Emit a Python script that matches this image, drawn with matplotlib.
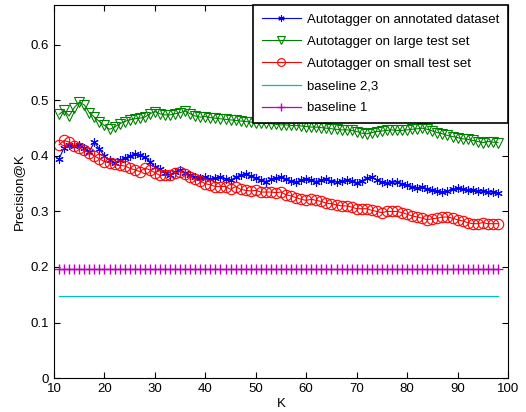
import numpy as np
import matplotlib
matplotlib.use("Agg")
import matplotlib.pyplot as plt

# valores de K
k_values = list(range(11, 99))

# Autotagger on annotated dataset
annotated = [0.395, 0.415, 0.420, 0.418, 0.420, 0.415, 0.408, 0.425, 0.412, 0.400,
             0.392, 0.388, 0.392, 0.396, 0.400, 0.403, 0.401, 0.398, 0.390, 0.380,
             0.376, 0.370, 0.366, 0.372, 0.375, 0.370, 0.366, 0.362, 0.360, 0.362,
             0.358, 0.360, 0.362, 0.358, 0.356, 0.362, 0.365, 0.367, 0.364, 0.360,
             0.356, 0.354, 0.358, 0.360, 0.362, 0.358, 0.355, 0.353, 0.356, 0.358,
             0.356, 0.354, 0.357, 0.358, 0.355, 0.353, 0.355, 0.357, 0.355, 0.352,
             0.355, 0.360, 0.362, 0.357, 0.353, 0.352, 0.354, 0.353, 0.350, 0.347,
             0.345, 0.343, 0.344, 0.341, 0.338, 0.336, 0.335, 0.337, 0.340, 0.342,
             0.340, 0.338, 0.338, 0.336, 0.337, 0.335, 0.335, 0.334]

# Autotagger on large test set
large = [0.475, 0.482, 0.472, 0.487, 0.497, 0.492, 0.478, 0.470, 0.462, 0.455,
         0.448, 0.452, 0.458, 0.462, 0.465, 0.467, 0.468, 0.470, 0.476, 0.480,
         0.476, 0.474, 0.474, 0.476, 0.478, 0.481, 0.476, 0.472, 0.470, 0.471,
         0.469, 0.468, 0.467, 0.466, 0.465, 0.464, 0.463, 0.462, 0.461, 0.460,
         0.459, 0.459, 0.458, 0.457, 0.456, 0.456, 0.455, 0.455, 0.454, 0.453,
         0.452, 0.452, 0.451, 0.450, 0.449, 0.448, 0.447, 0.447, 0.446, 0.444,
         0.441, 0.440, 0.442, 0.444, 0.445, 0.446, 0.447, 0.446, 0.446, 0.447,
         0.448, 0.449, 0.450, 0.448, 0.445, 0.442, 0.440, 0.437, 0.435, 0.433,
         0.431, 0.430, 0.428, 0.426, 0.424, 0.426, 0.425, 0.424]

# Autotagger on small test set
small = [0.420, 0.428, 0.425, 0.418, 0.415, 0.410, 0.405, 0.400, 0.395, 0.390,
         0.388, 0.385, 0.383, 0.382, 0.378, 0.375, 0.372, 0.378, 0.375, 0.370,
         0.365, 0.365, 0.365, 0.370, 0.372, 0.368, 0.362, 0.358, 0.355, 0.350,
         0.348, 0.345, 0.345, 0.345, 0.340, 0.345, 0.340, 0.338, 0.337, 0.338,
         0.335, 0.335, 0.335, 0.334, 0.335, 0.330, 0.328, 0.325, 0.322, 0.320,
         0.322, 0.320, 0.318, 0.315, 0.314, 0.312, 0.310, 0.310, 0.308, 0.305,
         0.305, 0.305, 0.302, 0.300, 0.298, 0.300, 0.300, 0.300, 0.298, 0.295,
         0.292, 0.290, 0.288, 0.285, 0.287, 0.288, 0.290, 0.290, 0.288, 0.285,
         0.283, 0.280, 0.278, 0.278, 0.280, 0.278, 0.278, 0.278]

baseline_23 = 0.147
baseline_1 = 0.197

x_ticks = [10, 20, 30, 40, 50, 60, 70, 80, 90, 100]
y_ticks = [0, 0.1, 0.2, 0.3, 0.4, 0.5, 0.6]
y_tick_labels = ["0", "0.1", "0.2", "0.3", "0.4", "0.5", "0.6"]

plt.rcParams['font.family'] = ['Liberation Sans', 'DejaVu Sans']

fig = plt.figure(figsize=(5.26, 4.12), dpi=100)
ax = fig.add_axes([0.1027, 0.0825, 0.8631, 0.9054])

# asterisco estilo matlab
asterisk = (6, 2, 0)

ax.plot(k_values, annotated, color='blue', marker=asterisk, markersize=6,
        markeredgewidth=0.8, linewidth=0.8, label='Autotagger on annotated dataset')
ax.plot(k_values, large, color=(0, 0.5, 0), marker='v', markersize=7.5,
        markerfacecolor='none', markeredgewidth=0.8, linewidth=0.8,
        label='Autotagger on large test set')
ax.plot(k_values, small, color='red', marker='o', markersize=7.5,
        markerfacecolor='none', markeredgewidth=0.8, linewidth=0.8,
        label='Autotagger on small test set')
ax.plot(k_values, [baseline_23] * len(k_values), color=(0, 0.75, 0.75),
        linewidth=0.9, label='baseline 2,3')
ax.plot(k_values, [baseline_1] * len(k_values), color=(0.75, 0, 0.75), marker='+',
        markersize=7, linewidth=0.9, label='baseline 1')

ax.set_xlim(10, 100)
ax.set_ylim(0, 0.672)
ax.set_xticks(x_ticks)
ax.set_yticks(y_ticks)
ax.set_yticklabels(y_tick_labels)
ax.tick_params(direction='in', top=True, right=True, labelsize=9.5, length=4)
ax.set_xlabel('K', fontsize=9.5, labelpad=2)
ax.set_ylabel('Precision@K', fontsize=9.5)

leg = ax.legend(loc='upper right', fontsize=9.5, fancybox=False, framealpha=1,
                borderaxespad=0, handlelength=3.0, handletextpad=0.45,
                labelspacing=0.75, borderpad=0.65, numpoints=1, markerscale=0.75,
                edgecolor='black')
leg.get_frame().set_linewidth(1.2)

plt.savefig('out.png', dpi=100)
